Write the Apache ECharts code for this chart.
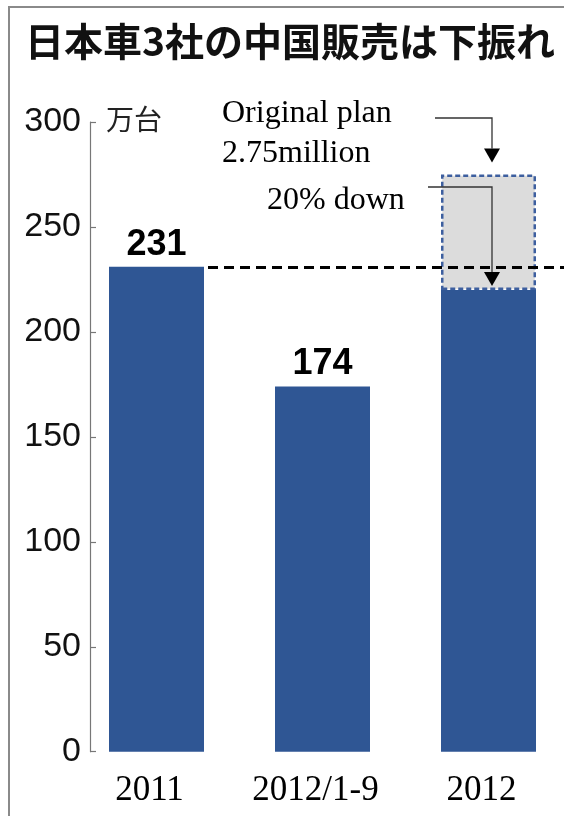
<!DOCTYPE html>
<html>
<head>
<meta charset="utf-8">
<script src="https://cdn.jsdelivr.net/npm/echarts@6/dist/echarts.min.js"></script>
<style>
html,body{margin:0;padding:0;background:#fff;}
#c{width:564px;height:816px;}
</style>
</head>
<body>
<div id="c"></div>
<script>
// ---- data ----
var categories = ['2011', '2012/1-9', '2012'];
var actualSales = [231, 174, 220];        // 万台
var showValueLabel = [true, true, false];
var originalPlan2012 = 275;               // 万台
var referenceLevel = 231;                 // 2011 level (dashed line)
var yTicks = { min: 0, max: 300, interval: 50 };
var titleText = '日本車3社の中国販売は下振れ';
var unitText = '万台';
var annotationLines = ['Original plan', '2.75million', '20% down'];

var shortfall = categories.map(function (c, i) {
  return i === 2 ? originalPlan2012 - actualSales[i] : '-';
});

var chart = echarts.init(document.getElementById('c'), null, { renderer: 'canvas' });

var option = {
  animation: false,
  backgroundColor: '#fff',
  title: {
    text: titleText,
    left: 20,
    top: 17,
    textStyle: { fontFamily: 'Noto Sans CJK JP', fontSize: 39, fontWeight: 'bold', color: '#111' }
  },
  grid: { left: 73.5, width: 498, top: 122, bottom: 64.3, containLabel: false, outerBoundsMode: 'none' },
  xAxis: {
    type: 'category',
    data: categories,
    axisLine: { show: false },
    axisTick: { show: false },
    axisLabel: {
      interval: 0,
      hideOverlap: false,
      margin: 22,
      fontFamily: 'Liberation Serif',
      fontSize: 35,
      color: '#000',
      padding: [0, 14, 0, 0]
    }
  },
  yAxis: {
    type: 'value',
    min: yTicks.min,
    max: yTicks.max,
    interval: yTicks.interval,
    offset: -16.5,
    name: unitText,
    nameLocation: 'end',
    nameGap: 3,
    nameTextStyle: {
      fontFamily: 'Noto Sans CJK JP', fontSize: 28, color: '#222',
      align: 'left', verticalAlign: 'middle', padding: [0, 0, 0, 16]
    },
    splitLine: { show: false },
    axisLine: { show: true, lineStyle: { color: '#777', width: 1.2 } },
    axisTick: { show: true, inside: true, length: 6, lineStyle: { color: '#777', width: 1.2 } },
    axisLabel: { margin: 9, fontFamily: 'Liberation Sans', fontSize: 34, color: '#111' }
  },
  series: [
    {
      type: 'bar',
      stack: 'sales',
      barWidth: 95,
      data: actualSales.map(function (v, i) {
        return { value: v, label: { show: showValueLabel[i] } };
      }),
      itemStyle: { color: '#2f5694' },
      label: {
        show: true,
        position: 'top',
        distance: 4,
        fontFamily: 'Liberation Sans',
        fontWeight: 'bold',
        fontSize: 36,
        color: '#000'
      },
      markLine: {
        silent: true,
        symbol: 'none',
        label: { show: false },
        lineStyle: { type: [10, 6], color: '#000', width: 3 },
        data: [[
          { coord: [0, referenceLevel], x: 208 },
          { coord: [2, referenceLevel], x: 564 }
        ]]
      },
      z: 2
    },
    {
      type: 'bar',
      stack: 'sales',
      barWidth: 95,
      data: shortfall,
      itemStyle: {
        color: '#dcdcdc',
        borderColor: '#3d5f9f',
        borderWidth: 2.5,
        borderType: [5, 3]
      },
      z: 1
    }
  ]
};

chart.setOption(option);

// ---- annotations positioned with the chart's own scales ----
var pPlan = chart.convertToPixel({ seriesIndex: 0 }, [2, originalPlan2012]);
var pActual = chart.convertToPixel({ seriesIndex: 0 }, [2, actualSales[2]]);
var ax = pPlan[0] + 3.5;
var head = 14, halfW = 8;
var tip1 = pPlan[1] - 12;
var tip2 = pActual[1] - 4;
var txtStyle = { fontFamily: 'Liberation Serif', fontSize: 32, fill: '#000' };

chart.setOption({
  graphic: [
    { type: 'rect', shape: { x: 9, y: 7, width: 700, height: 900 }, style: { fill: 'none', stroke: '#8a8a8a', lineWidth: 2 }, silent: true, z: 0 },
    { type: 'text', x: 222, y: 114, style: Object.assign({ text: annotationLines[0], verticalAlign: 'middle' }, txtStyle) },
    { type: 'text', x: 222, y: 154, style: Object.assign({ text: annotationLines[1], verticalAlign: 'middle' }, txtStyle) },
    { type: 'text', x: 267, y: 201, style: Object.assign({ text: annotationLines[2], verticalAlign: 'middle' }, txtStyle) },
    { type: 'polyline', shape: { points: [[435, 118], [ax, 118], [ax, tip1 - head]] }, style: { stroke: '#333', lineWidth: 1.3, fill: null }, z: 10 },
    { type: 'polygon', shape: { points: [[ax - halfW, tip1 - head], [ax + halfW, tip1 - head], [ax, tip1]] }, style: { fill: '#000' }, z: 10 },
    { type: 'polyline', shape: { points: [[428, 187], [ax, 187], [ax, tip2 - head]] }, style: { stroke: '#333', lineWidth: 1.3, fill: null }, z: 10 },
    { type: 'polygon', shape: { points: [[ax - halfW, tip2 - head], [ax + halfW, tip2 - head], [ax, tip2]] }, style: { fill: '#000' }, z: 10 }
  ]
});
</script>
</body>
</html>
